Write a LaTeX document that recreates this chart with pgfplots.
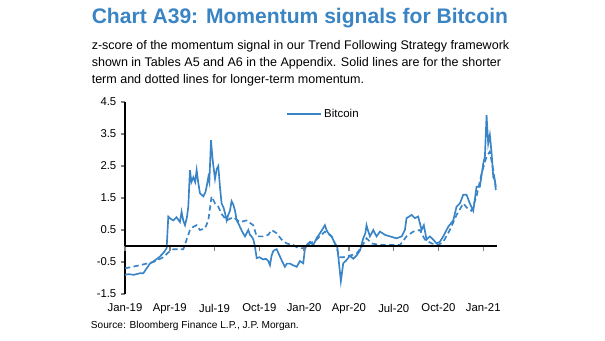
\documentclass[border=0pt]{standalone}
\usepackage{pgfplots}
\pgfplotsset{compat=1.18}
\usepackage{fontspec}
\setmainfont{Liberation Sans}
\definecolor{jpblue}{RGB}{56,132,198}
\definecolor{titleblue}{RGB}{58,132,196}
\begin{document}
\begin{tikzpicture}
\begin{scope}[x=0.75pt,y=-0.75pt]
\path[use as bounding box] (0,0) rectangle (605,341);
\node[anchor=base west,inner sep=0pt,text=titleblue,font=\fontsize{15.8}{18}\selectfont\bfseries] at (91.5,23.3) {Chart A39: Momentum signals for Bitcoin};
\node[anchor=base west,inner sep=0pt,font=\fontsize{9.4}{11}\selectfont] at (91.5,49.5) {z-score of the momentum signal in our Trend Following Strategy framework};
\node[anchor=base west,inner sep=0pt,font=\fontsize{9.4}{11}\selectfont] at (91.5,66.7) {shown in Tables A5 and A6 in the Appendix. Solid lines are for the shorter};
\node[anchor=base west,inner sep=0pt,font=\fontsize{9.4}{11}\selectfont] at (91.5,84) {term and dotted lines for longer-term momentum.};
\node[anchor=base west,inner sep=0pt,font=\fontsize{7.6}{9}\selectfont] at (90.7,328) {Source: Bloomberg Finance L.P., J.P. Morgan.};
\end{scope}
\begin{axis}[
  at={(93.75pt,-220.5pt)}, anchor=south west,
  scale only axis, width=279pt, height=144pt,
  xmin=0, xmax=24.92, ymin=-1.5, ymax=4.5,
  axis y line*=left, axis x line*=bottom,
  x axis line style={draw=none},
  y axis line style={line width=1.1pt},
  xtick={0,3,6,9,12,15,18,21,24},
  xticklabels={Jan-19,Apr-19,Jul-19,Oct-19,Jan-20,Apr-20,Jul-20,Oct-20,Jan-21},
  xtick style={draw=none},
  ytick={-1.5,-0.5,0.5,1.5,2.5,3.5,4.5},
  ytick style={line width=1.1pt},
  tick align=outside, major tick length=3pt,
  yticklabel style={/pgf/number format/fixed,/pgf/number format/fixed zerofill,/pgf/number format/precision=1},
  /pgf/number format/assume math mode=true,
  tick label style={font=\fontsize{8.5}{10}\selectfont},
  xticklabel style={yshift=-1pt},
  legend style={draw=none,fill=none,at={(rel axis cs:0.43,0.9375)},anchor=west,font=\fontsize{8.6}{10}\selectfont,inner sep=1pt},
  legend image code/.code={\draw[#1] (0pt,0pt) -- (25pt,0pt);},
]
\addplot[jpblue,line width=1.25pt] coordinates {
(0,-0.9)(0.22,-0.88)(0.6,-0.9)(1.0,-0.85)(1.23,-0.85)(1.67,-0.55)(2.0,-0.45)(2.34,-0.33)(2.6,-0.2)(2.79,-0.07)(2.9,0.92)(3.05,0.85)(3.24,0.8)(3.45,0.9)(3.68,0.75)(3.79,1.07)(3.9,0.8)(4.02,0.65)(4.15,0.9)(4.24,1.23)(4.35,2.37)(4.45,2.0)(4.58,2.15)(4.7,2.0)(4.8,2.37)(4.9,2.0)(5.02,1.65)(5.25,1.55)(5.4,1.7)(5.47,1.86)(5.58,2.15)(5.65,2.0)(5.76,3.31)(5.85,2.8)(5.92,2.5)(6.03,2.1)(6.14,2.4)(6.25,2.5)(6.36,1.85)(6.47,1.33)(6.6,1.2)(6.70,1.03)(6.81,0.8)(6.9,0.95)(7.03,1.1)(7.14,1.4)(7.25,1.3)(7.37,1.1)(7.48,0.8)(7.6,0.7)(7.70,0.6)(7.85,0.45)(8.04,0.3)(8.15,0.4)(8.26,0.5)(8.37,0.35)(8.48,0.3)(8.6,0.2)(8.71,-0.03)(8.82,-0.38)(9.0,-0.35)(9.26,-0.42)(9.45,-0.4)(9.60,-0.47)(9.71,-0.6)(9.82,-0.3)(9.93,-0.16)(10.05,-0.12)(10.16,-0.1)(10.38,-0.33)(10.55,-0.5)(10.71,-0.65)(10.85,-0.55)(11.05,-0.55)(11.25,-0.6)(11.50,-0.65)(11.72,-0.47)(11.94,-0.54)(12.05,-0.1)(12.2,0.05)(12.39,0.13)(12.61,0.03)(12.83,0.24)(13.06,0.4)(13.2,0.5)(13.39,0.65)(13.5,0.5)(13.62,0.4)(13.84,0.3)(14.06,0.08)(14.22,-0.03)(14.35,-0.6)(14.46,-1.1)(14.62,-0.54)(14.84,-0.44)(15.07,-0.3)(15.29,-0.4)(15.51,-0.3)(15.74,-0.14)(15.96,0.24)(16.1,0.4)(16.18,0.65)(16.3,0.45)(16.41,0.3)(16.63,0.5)(16.85,0.3)(17.08,0.45)(17.41,0.35)(17.75,0.3)(18.19,0.24)(18.53,0.3)(18.75,0.5)(18.86,0.87)(19.20,0.97)(19.42,0.87)(19.64,0.92)(19.87,0.5)(20.02,0.65)(20.20,0.2)(20.42,0.3)(20.65,0.2)(20.87,0.08)(21.09,0.13)(21.32,0.3)(21.65,0.6)(21.99,0.8)(22.21,1.23)(22.43,1.33)(22.66,1.6)(22.88,1.6)(23.10,1.33)(23.33,1.1)(23.55,1.85)(23.77,1.85)(24.00,2.58)(24.11,2.8)(24.22,4.09)(24.33,3.2)(24.44,3.47)(24.55,2.95)(24.67,2.15)(24.78,2.05)(24.84,1.75)
};
\addlegendentry{Bitcoin}
\addplot[jpblue,line width=1.25pt,dash pattern=on 4pt off 2.5pt,forget plot] coordinates {
(0,-0.7)(1.0,-0.6)(1.9,-0.5)(2.57,-0.35)(2.9,-0.2)(3.24,-0.1)(3.91,-0.1)(4.13,0.2)(4.35,0.5)(4.58,0.6)(4.8,0.65)(5.02,0.5)(5.36,0.55)(5.58,0.8)(5.8,1.55)(6.03,1.33)(6.25,1.23)(6.47,1.0)(6.81,0.8)(7.25,0.9)(7.7,0.75)(8.15,0.8)(8.59,0.65)(8.82,0.3)(9.26,0.3)(9.6,0.35)(9.82,0.5)(10.16,0.4)(10.49,0.2)(10.83,0.08)(11.27,0.03)(11.61,-0.07)(11.94,-0.07)(12.39,0.08)(12.83,0.2)(13.39,0.45)(13.84,0.3)(14.17,-0.03)(14.35,-0.35)(14.62,-0.35)(15.07,-0.3)(15.51,-0.24)(15.85,-0.03)(16.18,0.24)(16.52,0.08)(17.08,0.03)(17.75,0.03)(18.42,0.03)(18.86,0.3)(19.31,0.45)(19.75,0.5)(20.09,0.2)(20.54,0.08)(20.98,0.03)(21.32,0.13)(21.76,0.5)(22.21,0.97)(22.66,1.33)(22.99,1.15)(23.21,1.1)(23.55,1.55)(23.88,2.25)(24.22,2.8)(24.44,2.95)(24.67,2.37)(24.84,1.85)
};
\end{axis}
\begin{axis}[
  at={(93.75pt,-220.5pt)}, anchor=south west,
  scale only axis, width=279pt, height=144pt,
  xmin=0, xmax=24.92, ymin=-1.5, ymax=4.5,
  axis x line*=middle, axis y line=none,
  x axis line style={line width=1.5pt},
  xtick={0,3,6,9,12,15,18,21,24}, xticklabels={},
  xtick style={line width=1.1pt},
  tick align=outside, major tick length=4pt,
]
\end{axis}
\end{tikzpicture}
\end{document}
